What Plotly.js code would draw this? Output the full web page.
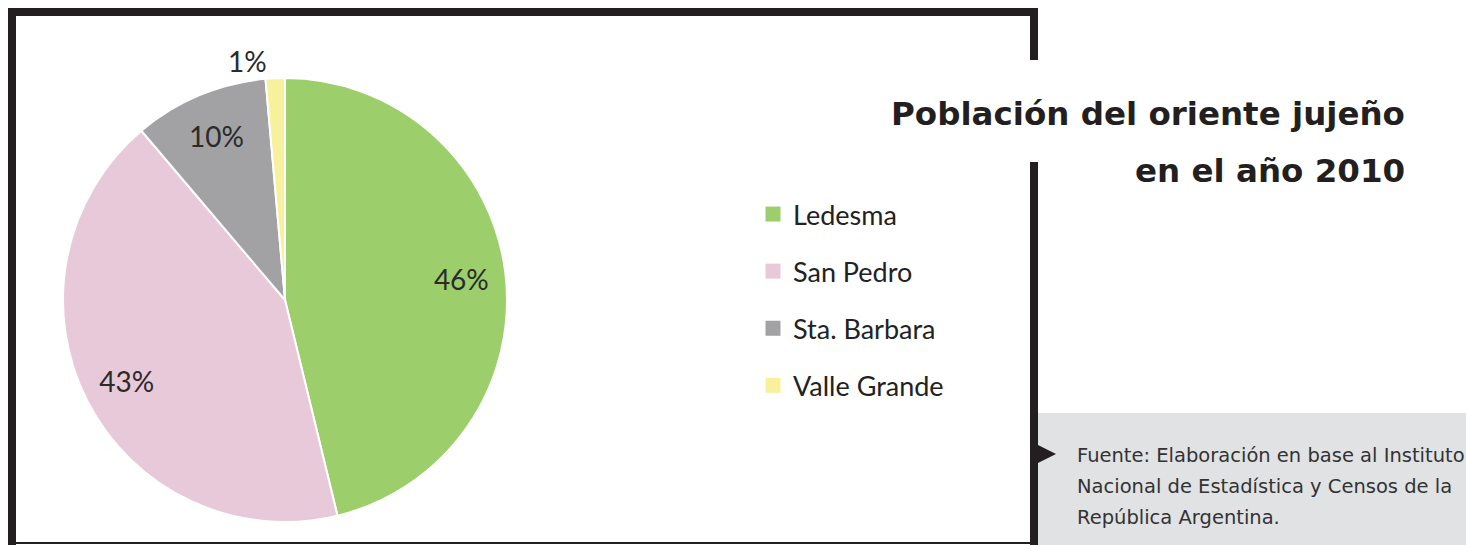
<!DOCTYPE html>
<html>
<head>
<meta charset="utf-8">
<script src="https://cdn.plot.ly/plotly-3.0.1.min.js"></script>
<style>html,body{margin:0;padding:0;background:#fff;}#chart{width:1466px;height:545px;}</style>
</head>
<body>
<div id="chart"></div>
<script>
// ---- data ----
const categories = ['Ledesma', 'San Pedro', 'Sta. Barbara', 'Valle Grande'];
const shares = [46.2, 42.6, 9.8, 1.4];
const titleLines = ['Población del oriente jujeño', 'en el año 2010'];
const sourceLines = ['Fuente: Elaboración en base al Instituto', 'Nacional de Estadística y Censos de la', 'República Argentina.'];

// ---- style ----
const W = 1466, H = 545;
const sliceColors = ['#9ccf6b', '#e8c9da', '#a2a2a4', '#f7f09c'];
const ink = '#231f20';
const px = x => x / W;
const py = y => 1 - y / H;
const FONT = 'Lato, "Open Sans", sans-serif';
const HEAD = '"DejaVu Sans", "Noto Sans", sans-serif';

const pieDomain = {x: [px(63), px(507)], y: [py(522), py(78)]};

const traces = [
  {
    type: 'pie', labels: categories, values: shares, sort: false,
    direction: 'clockwise', rotation: 0, domain: pieDomain,
    marker: {colors: sliceColors, line: {color: '#ffffff', width: 2}},
    textinfo: 'none', showlegend: false, hoverinfo: 'label+percent'
  },
  {
    type: 'pie', labels: categories, values: shares, sort: false,
    direction: 'clockwise', rotation: 0, domain: pieDomain, hole: 0.6,
    marker: {colors: categories.map(() => 'rgba(0,0,0,0)'), line: {width: 0}},
    texttemplate: '%{percent:.0%}', textposition: ['inside', 'inside', 'inside', 'outside'],
    insidetextorientation: 'horizontal',
    textfont: {family: FONT, size: 28, color: '#2b2b2b'},
    showlegend: false, hoverinfo: 'skip'
  }
];
categories.forEach((c, i) => {
  traces.push({
    type: 'scatter', mode: 'markers', x: [null], y: [null], name: c,
    legendgroup: 'g' + i, showlegend: true, hoverinfo: 'skip',
    marker: {symbol: 'square', size: 15, color: sliceColors[i]}
  });
});

const shapes = [
  // frame
  {type: 'rect', x0: px(8), x1: px(16), y0: py(545), y1: py(8)},
  {type: 'rect', x0: px(8), x1: px(1038), y0: py(16), y1: py(8)},
  {type: 'rect', x0: px(1030), x1: px(1038), y0: py(60), y1: py(8)},
  {type: 'rect', x0: px(1030), x1: px(1038), y0: py(545), y1: py(162)},
  {type: 'rect', x0: px(8), x1: px(1030), y0: py(544), y1: py(542)},
].map(s => Object.assign(s, {xref: 'paper', yref: 'paper', fillcolor: ink, line: {width: 0}, layer: 'above'}));
shapes.push({type: 'rect', xref: 'paper', yref: 'paper', x0: px(1038), x1: px(1466), y0: py(545), y1: py(413),
  fillcolor: '#e1e2e4', line: {width: 0}, layer: 'above'});
shapes.push({type: 'path', xref: 'paper', yref: 'paper',
  path: `M ${px(1038)} ${py(445)} L ${px(1056)} ${py(454)} L ${px(1038)} ${py(463)} Z`,
  fillcolor: ink, line: {width: 0}, layer: 'above'});

const annotations = [];
titleLines.forEach((t, i) => annotations.push({
  xref: 'paper', yref: 'paper', x: px(1407), y: py(114 + i * 57), xanchor: 'right', yanchor: 'middle',
  text: t, showarrow: false, font: {family: HEAD, size: 32.5, weight: 700, color: ink}
}));
sourceLines.forEach((t, i) => annotations.push({
  xref: 'paper', yref: 'paper', x: px(1075), y: py(455 + i * 31), xanchor: 'left', yanchor: 'middle',
  text: t, showarrow: false, font: {family: HEAD, size: 19.5, color: '#333333'}
}));

const layout = {
  width: W, height: H, margin: {l: 0, r: 0, t: 0, b: 0, pad: 0},
  paper_bgcolor: '#ffffff', plot_bgcolor: 'rgba(0,0,0,0)',
  xaxis: {visible: false, range: [0, 1]}, yaxis: {visible: false, range: [0, 1]},
  showlegend: true,
  legend: {x: px(753), y: py(190), xanchor: 'left', yanchor: 'top', bgcolor: 'rgba(0,0,0,0)',
    font: {family: FONT, size: 27, color: '#222222'}, traceorder: 'grouped', tracegroupgap: 19},
  shapes: shapes, annotations: annotations,
  font: {family: FONT}
};

Plotly.newPlot('chart', traces, layout, {displayModeBar: false, staticPlot: true});
</script>
</body>
</html>
